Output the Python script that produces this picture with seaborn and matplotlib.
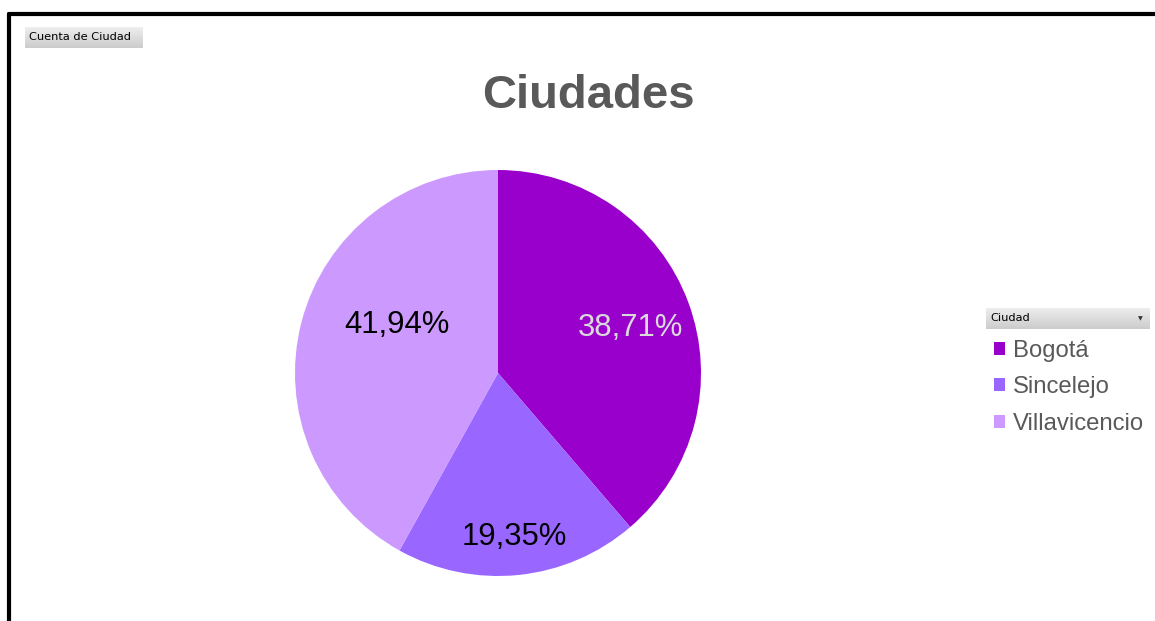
import numpy as np
import matplotlib
matplotlib.use("Agg")
import matplotlib.pyplot as plt
import seaborn as sns
from matplotlib.lines import Line2D

# counts per city (Cuenta de Ciudad)
ciudades = ["Bogotá", "Sincelejo", "Villavicencio"]
cuentas = [12, 6, 13]
colores = ["#9900CC", "#9966FF", "#CC99FF"]
label_colors = ["#D9D9D9", "black", "black"]
# where Excel dropped the data labels: radius fraction and angle shift (deg)
label_dist = [0.69, 0.81, 0.55]
label_shift = [-1.5, 0, -11]

sns.set_theme(style="white")
plt.rcParams["font.family"] = ["Liberation Sans", "DejaVu Sans"]

W, H = 1155, 621
fig = plt.figure(figsize=(W / 100, H / 100), dpi=100)
fig.patch.set_facecolor("white")

# pie axes: square in pixels
cx, cy, r = 498, 373, 203
ax = fig.add_axes([(cx - r) / W, (H - cy - r) / H, 2 * r / W, 2 * r / H])
pal = sns.color_palette(colores)
wedges, texts, autotexts = ax.pie(
    cuentas, colors=pal, startangle=90, counterclock=False,
    autopct=lambda p: f"{p:.2f}%".replace(".", ","), pctdistance=0.7,
    wedgeprops=dict(linewidth=0), textprops=dict(fontsize=22.3),
)
ax.set_xlim(-1, 1)
ax.set_ylim(-1, 1)
ax.set_aspect("auto")
ax.axis("off")

for w, t, c, d, s in zip(wedges, autotexts, label_colors, label_dist, label_shift):
    ang = np.deg2rad((w.theta1 + w.theta2) / 2 + s)
    t.set_position((d * np.cos(ang), d * np.sin(ang)))
    t.set_color(c)

# title
fig.text(588 / W, 1 - 96 / H, "Ciudades", ha="center", va="center",
         fontsize=34, fontweight="bold", color="#595959")

# chart border (top and left)
fig.add_artist(Line2D([8.5 / W, 1], [1 - 13.5 / H, 1 - 13.5 / H],
                      transform=fig.transFigure, color="black", lw=3))
fig.add_artist(Line2D([8.5 / W, 8.5 / W], [0, 1 - 13.5 / H],
                      transform=fig.transFigure, color="black", lw=3))

# pivot field buttons (light gray gradient)
grad = np.linspace(0.93, 0.80, 32).reshape(-1, 1)

def boton(x0, y0, x1, y1, txt, arrow=False):
    bax = fig.add_axes([x0 / W, 1 - y1 / H, (x1 - x0) / W, (y1 - y0) / H])
    bax.imshow(grad, cmap="gray", vmin=0, vmax=1, aspect="auto",
               extent=(0, 1, 0, 1))
    bax.set_xlim(0, 1)
    bax.set_ylim(0, 1)
    bax.axis("off")
    fig.text((x0 + 4) / W, 1 - (y0 + y1) / 2 / H, txt, ha="left", va="center",
             fontsize=8.2, color="black", family="DejaVu Sans")
    if arrow:
        fig.text((x1 - 10) / W, 1 - (y0 + y1) / 2 / H, "▼", ha="center",
                 va="center", fontsize=4.5, color="#333333", family="DejaVu Sans")

boton(25, 27, 143, 48, "Cuenta de Ciudad")
boton(986, 308, 1150, 329, "Ciudad", arrow=True)

leg = fig.legend(wedges, ciudades, loc="upper left",
                 bbox_to_anchor=(994 / W, 1 - 340 / H), frameon=False,
                 fontsize=17.2, handlelength=0.45, handleheight=0.45,
                 handletextpad=0.35, labelspacing=0.6, borderpad=0,
                 borderaxespad=0)
for t in leg.get_texts():
    t.set_color("#595959")

fig.savefig("out.png", dpi=100, facecolor="white")
